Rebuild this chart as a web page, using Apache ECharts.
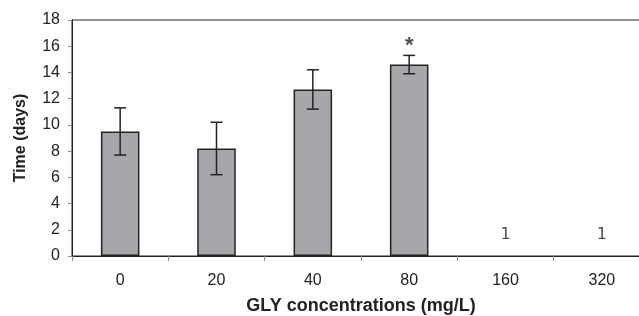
<!DOCTYPE html>
<html>
<head>
<meta charset="utf-8">
<script src="https://cdn.jsdelivr.net/npm/echarts@6/dist/echarts.min.js"></script>
<style>html,body{margin:0;padding:0;background:#fff}#c{width:639px;height:316px}</style>
</head>
<body>
<div id="c"></div>
<script>
var categories = ['0', '20', '40', '80', '160', '320'];
var means = [9.5, 8.2, 12.7, 14.6, null, null];
var errors = [1.8, 2.0, 1.5, 0.7, null, null];
var starLabels = [null, null, null, '*', null, null];
var starValues = [null, null, null, 16.0, null, null];
var noteLabels = [null, null, null, null, '1', '1'];
var noteValues = [null, null, null, null, 1.6, 1.6];
var yTicks = [0, 2, 4, 6, 8, 10, 12, 14, 16, 18];

var chart = echarts.init(document.getElementById('c'));
var errData = categories.map(function (c, i) {
  return means[i] == null ? null : [i, means[i] - errors[i], means[i] + errors[i]];
}).filter(function (d) { return d; });

function textSeries(vals, labels, font) {
  return {
    type: 'scatter',
    symbolSize: 1,
    itemStyle: { color: 'rgba(0,0,0,0)' },
    silent: true,
    data: categories.map(function (c, i) {
      return vals[i] == null ? null : { value: [i, vals[i]], label: { show: true, formatter: labels[i] } };
    }).filter(function (d) { return d; }),
    label: { position: 'inside', color: '#222', fontFamily: font.family, fontSize: font.size, fontWeight: font.weight }
  };
}

chart.setOption({
  animation: false,
  grid: { left: 72, top: 20, width: 578, height: 236, outerBoundsMode: 'none', containLabel: false,
    show: true, borderColor: '#222', borderWidth: 1, backgroundColor: 'transparent' },
  xAxis: {
    type: 'category',
    data: categories,
    name: 'GLY concentrations (mg/L)',
    nameLocation: 'middle',
    nameGap: 41,
    nameTextStyle: { fontFamily: 'Liberation Sans', fontWeight: 'bold', fontSize: 18, color: '#222' },
    axisLine: { lineStyle: { color: '#222', width: 1 } },
    axisTick: { show: true, length: 5, lineStyle: { color: '#888' } },
    axisLabel: { fontFamily: 'Liberation Sans', fontSize: 16, color: '#222', margin: 17 }
  },
  yAxis: {
    type: 'value',
    min: 0, max: 18, interval: 2,
    name: 'Time (days)',
    nameLocation: 'middle',
    nameGap: 43,
    nameTextStyle: { fontFamily: 'Liberation Sans', fontWeight: 'bold', fontSize: 16, color: '#222' },
    axisLine: { show: true, lineStyle: { color: '#222', width: 1 } },
    axisTick: { show: true, length: 4, lineStyle: { color: '#888' } },
    axisLabel: { fontFamily: 'Liberation Sans', fontSize: 16, color: '#222', margin: 12,
      formatter: function (v) { return yTicks.indexOf(v) >= 0 ? String(v) : ''; } },
    splitLine: { show: false }
  },
  series: [
    {
      type: 'bar',
      data: means,
      barWidth: '40%',
      itemStyle: { color: '#a6a7ab', borderColor: '#222', borderWidth: 1.5 },
      silent: true
    },
    {
      type: 'custom',
      silent: true,
      data: errData,
      z: 5,
      renderItem: function (params, api) {
        var x = api.value(0);
        var lo = api.coord([x, api.value(1)]);
        var hi = api.coord([x, api.value(2)]);
        var hw = 6;
        var st = { stroke: '#222', lineWidth: 1.5 };
        return {
          type: 'group',
          children: [
            { type: 'line', shape: { x1: lo[0], y1: lo[1], x2: hi[0], y2: hi[1] }, style: st },
            { type: 'line', shape: { x1: lo[0] - hw, y1: lo[1], x2: lo[0] + hw, y2: lo[1] }, style: st },
            { type: 'line', shape: { x1: hi[0] - hw, y1: hi[1], x2: hi[0] + hw, y2: hi[1] }, style: st }
          ]
        };
      }
    },
    textSeries(starValues, starLabels, { family: 'Liberation Sans', size: 22, weight: 'bold' }),
    textSeries(noteValues, noteLabels, { family: 'DejaVu Sans', size: 16, weight: 'normal' })
  ]
});
</script>
</body>
</html>
